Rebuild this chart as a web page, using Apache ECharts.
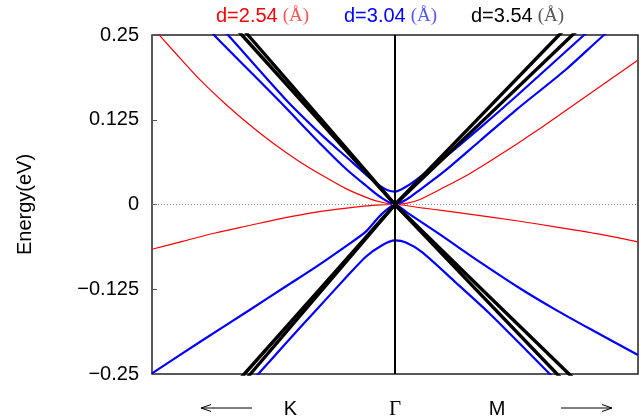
<!DOCTYPE html>
<html>
<head>
<meta charset="utf-8">
<script src="https://cdn.jsdelivr.net/npm/echarts@6/dist/echarts.min.js"></script>
<style>html,body{margin:0;padding:0;background:#fff}#c{width:641px;height:416px}</style>
</head>
<body>
<div id="c"></div>
<script>
// ---- data: [k-path position (K side = -1 ... Γ = 0 ... M side = +1), energy (eV)] ----
const red_up = [[-1,0.262],[-0.9,0.222],[-0.8,0.183],[-0.7,0.149],[-0.6,0.118],[-0.5,0.09],[-0.4,0.065],[-0.3,0.043],[-0.2,0.023],[-0.1,0.008],[-0.05,0.003],[0,0],[0.05,0.002],[0.1,0.007],[0.2,0.025],[0.3,0.044],[0.4,0.066],[0.5,0.089],[0.6,0.113],[0.7,0.138],[0.8,0.163],[0.9,0.188],[1,0.213]];
const red_dn = [[-1,-0.066],[-0.87,-0.054],[-0.74,-0.042],[-0.6,-0.031],[-0.465,-0.0205],[-0.33,-0.0115],[-0.19,-0.005],[-0.08,-0.001],[0,0],[0.11,-0.005],[0.2,-0.009],[0.32,-0.015],[0.5,-0.024],[0.66,-0.033],[0.83,-0.043],[1,-0.055]];
const blue_up1 = [[-0.75,0.274],[-0.687,0.25],[-0.45,0.155],[-0.3,0.102],[-0.2,0.07],[-0.1,0.038],[-0.06,0.027],[-0.03,0.021],[0,0.019],[0.04,0.025],[0.086,0.036],[0.2,0.068],[0.35,0.113],[0.5,0.16],[0.778,0.25],[0.85,0.273]];
const blue_up2 = [[-0.82,0.28],[-0.745,0.25],[-0.48,0.154],[-0.3,0.087],[-0.2,0.052],[-0.12,0.028],[-0.06,0.011],[0,0],[0.05,0.008],[0.1,0.021],[0.2,0.048],[0.35,0.094],[0.5,0.14],[0.7,0.198],[0.86,0.25],[0.95,0.276]];
const blue_dn2 = [[-1,-0.249],[-0.8,-0.202],[-0.6,-0.156],[-0.45,-0.121],[-0.325,-0.092],[-0.2,-0.061],[-0.12,-0.040],[-0.06,-0.016],[0,0],[0.05,-0.012],[0.18,-0.043],[0.35,-0.085],[0.52,-0.125],[0.66,-0.155],[0.8,-0.183],[1,-0.222]];
const blue_dn1 = [[-0.6,-0.265],[-0.56,-0.249],[-0.45,-0.205],[-0.325,-0.156],[-0.2,-0.107],[-0.12,-0.077],[-0.053,-0.06],[0,-0.053],[0.045,-0.056],[0.11,-0.07],[0.25,-0.115],[0.387,-0.16],[0.51,-0.204],[0.634,-0.249],[0.68,-0.265]];
const black_up1 = [[-0.7,0.278],[-0.63,0.25],[-0.3,0.119],[0,0],[0.34,0.126],[0.675,0.25],[0.75,0.278]];
const black_up2 = [[-0.68,0.281],[-0.605,0.25],[-0.3,0.124],[0,0],[0.36,0.123],[0.73,0.25],[0.8,0.274]];
const black_dn1 = [[-0.7,-0.282],[-0.62,-0.25],[-0.3,-0.121],[0,0],[0.33,-0.124],[0.667,-0.25],[0.74,-0.277]];
const black_dn2 = [[-0.67,-0.281],[-0.595,-0.25],[-0.3,-0.126],[0,0],[0.36,-0.126],[0.716,-0.25],[0.79,-0.276]];

const legendLabels = ['d=2.54', 'd=3.04', 'd=3.54'];
const legendUnit = '(Å)';
const xTickValues = [-0.43, 0, 0.42];
const xTickLabels = ['K', 'Γ', 'M'];
const arrowCenters = [-0.693, 0.788];   // direction arrows below the axis (K ←, → M)
const yTickValues = [-0.25, -0.125, 0, 0.125, 0.25];
const yName = 'Energy(eV)';

const SANS = '"Liberation Sans", Arial, sans-serif';
const chart = echarts.init(document.getElementById('c'), null, {renderer: 'canvas'});

function band(data, color, width, smooth) {
  return {type: 'line', data: data, showSymbol: false, smooth: smooth, clip: true,
    lineStyle: {color: color, width: width}, silent: true};
}

const series = [
  band(red_up, '#ff0000', 1.2, 0.25), band(red_dn, '#ff0000', 1.2, 0.25),
  band(blue_up1, '#0000ff', 2.2, 0.25), band(blue_up2, '#0000ff', 2.2, 0.25),
  band(blue_dn1, '#0000ff', 2.2, 0.25), band(blue_dn2, '#0000ff', 2.2, 0.25),
  band(black_up1, '#000000', 3.4, false), band(black_up2, '#000000', 3.4, false),
  band(black_dn1, '#000000', 3.4, false), band(black_dn2, '#000000', 3.4, false)
];
series[0].markLine = {
  silent: true, symbol: 'none', label: {show: false},
  data: [
    {yAxis: 0, lineStyle: {color: '#888', type: [1, 2], width: 1}},
    {xAxis: 0, lineStyle: {color: '#000', type: 'solid', width: 2}}
  ]
};

const legendColors = [['#ff0000', '#ff5555'], ['#0000ff', '#5555ff'], ['#000000', '#555555']];
const legendLeft = [216, 344, 471];
const titles = legendLabels.map((t, i) => ({
  text: '{a|' + t + '} {b|' + legendUnit + '}',
  left: legendLeft[i], top: 6, padding: 0,
  textStyle: {fontWeight: 'normal', rich: {
    a: {fontFamily: SANS, fontSize: 20, fontWeight: 'normal', color: legendColors[i][0]},
    b: {fontFamily: '"Liberation Serif", serif', fontSize: 19, fontWeight: 'normal', color: legendColors[i][1]}
  }}
}));

chart.setOption({
  animation: false,
  title: titles,
  grid: {left: 152, right: 3, top: 35, bottom: 42, outerBoundsMode: 'none', containLabel: false,
         show: true, borderColor: '#222', borderWidth: 1.5, backgroundColor: 'transparent'},
  xAxis: {
    type: 'value', min: -1, max: 1,
    axisLine: {show: false, onZero: false}, axisTick: {show: false}, splitLine: {show: false},
    axisLabel: {
      customValues: xTickValues, margin: 25, showMinLabel: true, showMaxLabel: true,
      formatter: function (v) {
        const i = xTickValues.indexOf(v);
        if (i < 0) return '';
        const s = xTickLabels[i];
        return s === 'Γ' ? '{g|' + s + '}' : '{s|' + s + '}';
      },
      rich: {
        s: {fontFamily: SANS, fontSize: 20, color: '#000'},
        g: {fontFamily: '"Liberation Serif", serif', fontSize: 21, color: '#000'}
      }
    }
  },
  yAxis: {
    type: 'value', min: -0.25, max: 0.25, interval: 0.125,
    name: yName, nameLocation: 'middle', nameRotate: 90, nameGap: 117,
    nameTextStyle: {fontFamily: SANS, fontSize: 20, color: '#000'},
    axisLine: {show: false, onZero: false},
    axisTick: {show: true, inside: true, length: 5, lineStyle: {color: '#555', width: 1}},
    splitLine: {show: false},
    axisLabel: {
      margin: 13, fontFamily: SANS, fontSize: 20, color: '#000',
      formatter: function (v) {
        const i = yTickValues.findIndex(t => Math.abs(t - v) < 1e-9);
        const t = i >= 0 ? yTickValues[i] : v;
        return t < 0 ? '\u2212' + String(Math.abs(t)) : String(t);
      }
    }
  },
  series: series
});

// direction arrows under the k-axis, placed through the axis scale
const yBottom = chart.convertToPixel({gridIndex: 0}, [0, -0.25])[1];
const ay = yBottom + 34, half = 25.5, head = 10, hw = 3.5;
const graphics = arrowCenters.map((c, i) => {
  const cx = chart.convertToPixel({gridIndex: 0}, [c, 0])[0];
  const dir = i === 0 ? -1 : 1;
  const tip = cx + dir * half, tail = cx - dir * half;
  return {type: 'group', silent: true, children: [
    {type: 'line', shape: {x1: tail, y1: ay, x2: tip, y2: ay}, style: {stroke: '#000', lineWidth: 1}},
    {type: 'polyline', shape: {points: [[tip - dir * head, ay - hw], [tip, ay], [tip - dir * head, ay + hw]]},
     style: {stroke: '#000', lineWidth: 1, fill: null}}
  ]};
});
chart.setOption({graphic: graphics});
</script>
</body>
</html>
